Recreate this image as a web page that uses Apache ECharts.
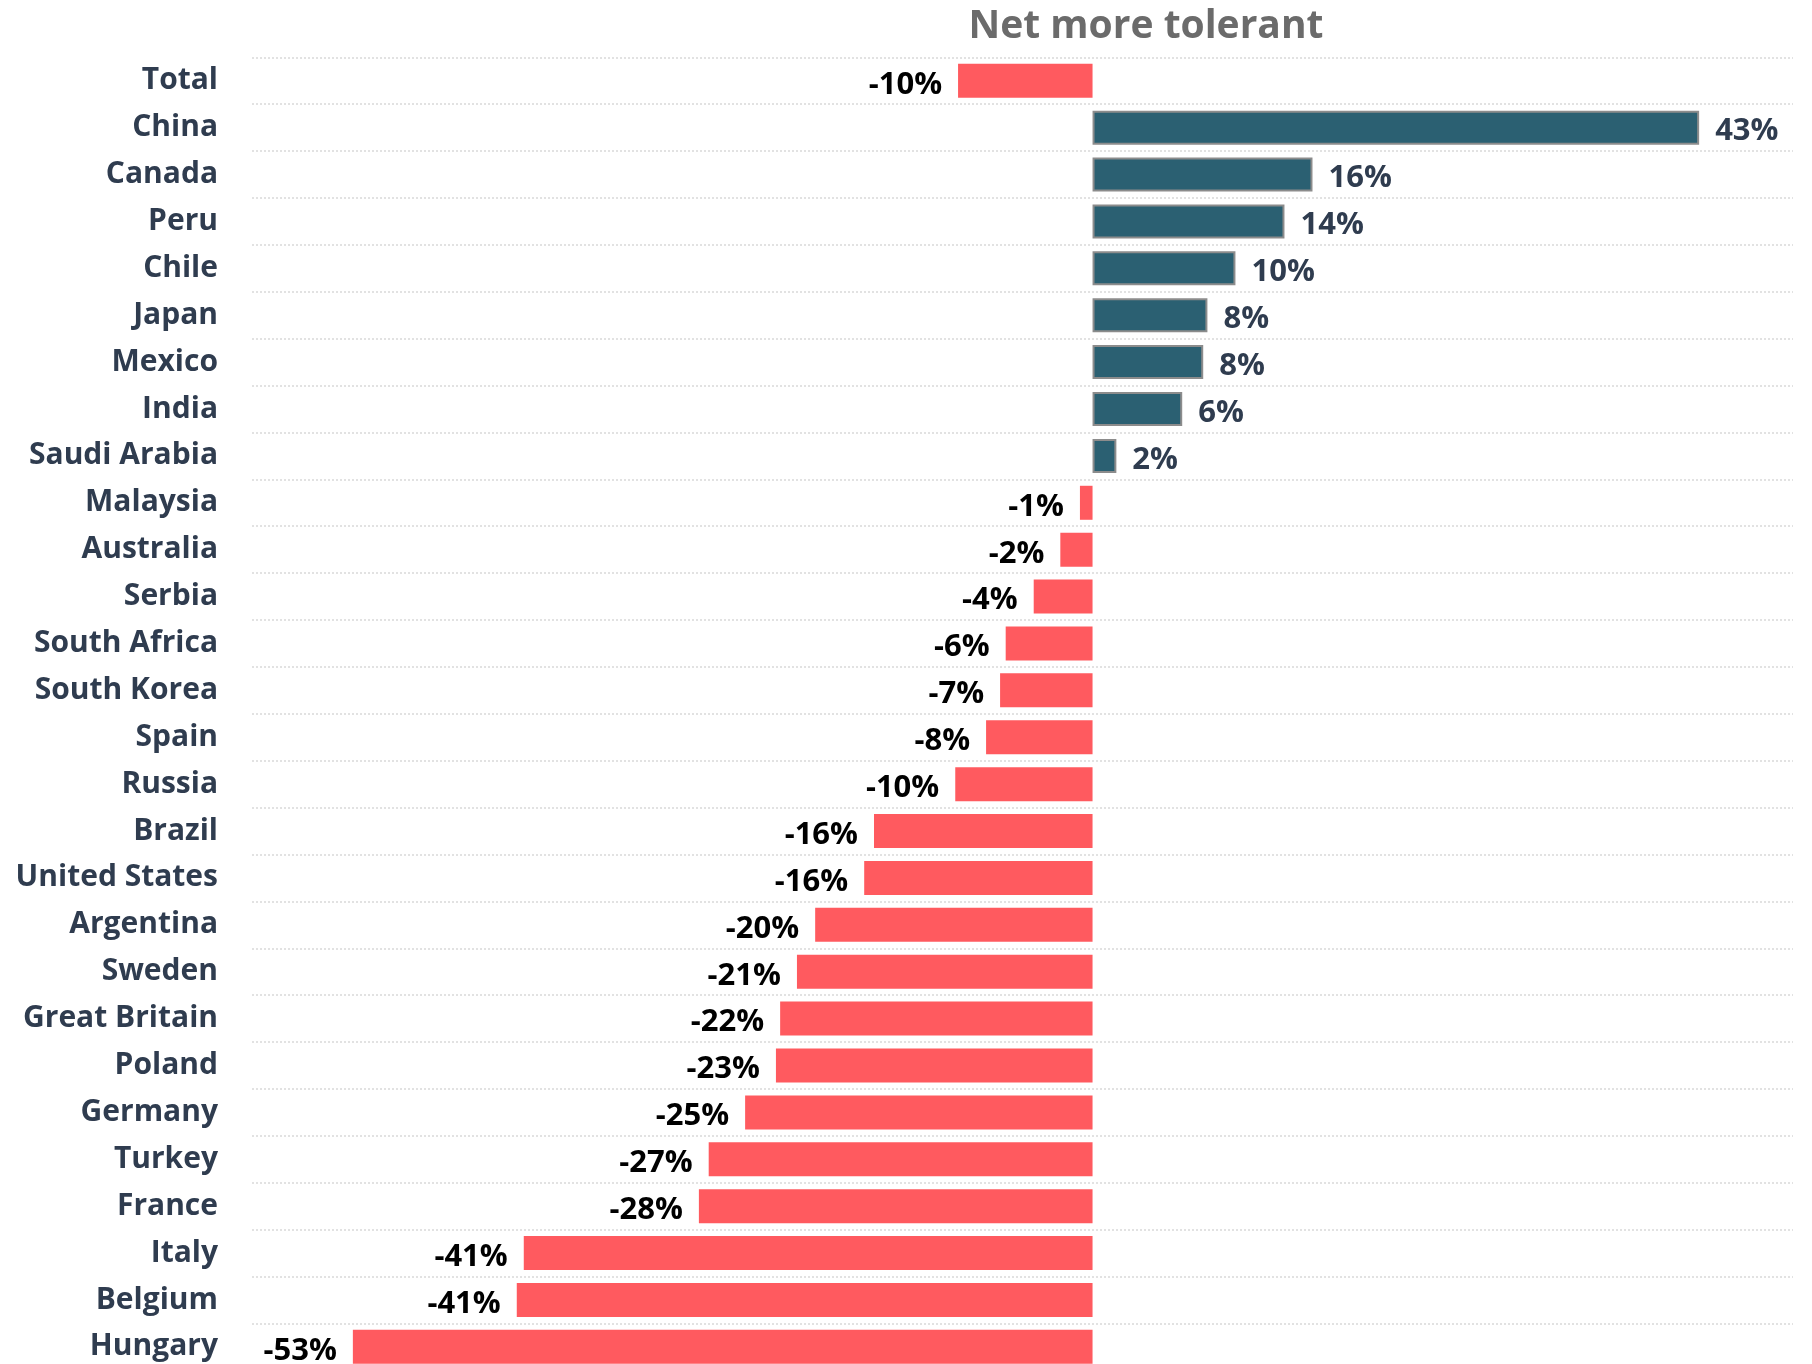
<!DOCTYPE html>
<html>
<head>
<meta charset="utf-8">
<script src="https://cdn.jsdelivr.net/npm/echarts@6/dist/echarts.min.js"></script>
<style>
html,body{margin:0;padding:0;background:#fff;}
#chart{width:1812px;height:1364px;}
</style>
</head>
<body>
<div id="chart"></div>
<script>
const titleText = 'Net more tolerant';
const categories = ['Total','China','Canada','Peru','Chile','Japan','Mexico','India','Saudi Arabia','Malaysia','Australia','Serbia','South Africa','South Korea','Spain','Russia','Brazil','United States','Argentina','Sweden','Great Britain','Poland','Germany','Turkey','France','Italy','Belgium','Hungary'];
const values = [-9.6,43.3,15.7,13.7,10.2,8.2,7.9,6.4,1.7,-0.9,-2.3,-4.2,-6.2,-6.6,-7.6,-9.8,-15.6,-16.3,-19.8,-21.1,-22.3,-22.6,-24.8,-27.4,-28.1,-40.6,-41.1,-52.8];

const POS = '#2b6072', NEG = '#ff5a5f';
const FONT = '"Open Sans", "Noto Sans", sans-serif';

const data = values.map(v => ({
  value: v,
  itemStyle: v >= 0 ? {color: POS, borderColor: '#8c8c8c', borderWidth: 2} : {color: NEG},
  label: {
    position: v >= 0 ? 'right' : 'left',
    color: v >= 0 ? '#2f3c4f' : '#000000'
  }
}));

const chart = echarts.init(document.getElementById('chart'), null, {renderer: 'canvas'});
chart.setOption({
  animation: false,
  backgroundColor: '#ffffff',
  graphic: [{
    type: 'text', x: 1146, y: 27,
    style: {text: titleText, textAlign: 'center', textVerticalAlign: 'middle', fill: '#6b6b6b', font: 'bold 39px ' + FONT}
  }],
  grid: {left: 252, right: 19, top: 57.3, height: 1313, containLabel: false, outerBoundsMode: 'none'},
  xAxis: {
    type: 'value', min: -60, max: 50,
    axisLine: {show: false}, axisTick: {show: false}, axisLabel: {show: false},
    splitLine: {show: false}
  },
  yAxis: {
    type: 'category', data: categories, inverse: true,
    axisLine: {show: false}, axisTick: {show: false},
    axisLabel: {color: '#2f3c4f', fontFamily: FONT, fontWeight: 'bold', fontSize: 30, margin: 34, padding: [4, 0, 0, 0]},
    splitLine: {show: true, lineStyle: {color: '#d9d9d9', type: [2, 2], width: 1.5}}
  },
  series: [{
    type: 'bar', data: data, barWidth: 34,
    label: {
      show: true, distance: 16, offset: [0, 4], fontFamily: FONT, fontWeight: 'bold', fontSize: 31,
      formatter: p => Math.round(p.value) + '%'
    }
  }]
});
</script>
</body>
</html>
